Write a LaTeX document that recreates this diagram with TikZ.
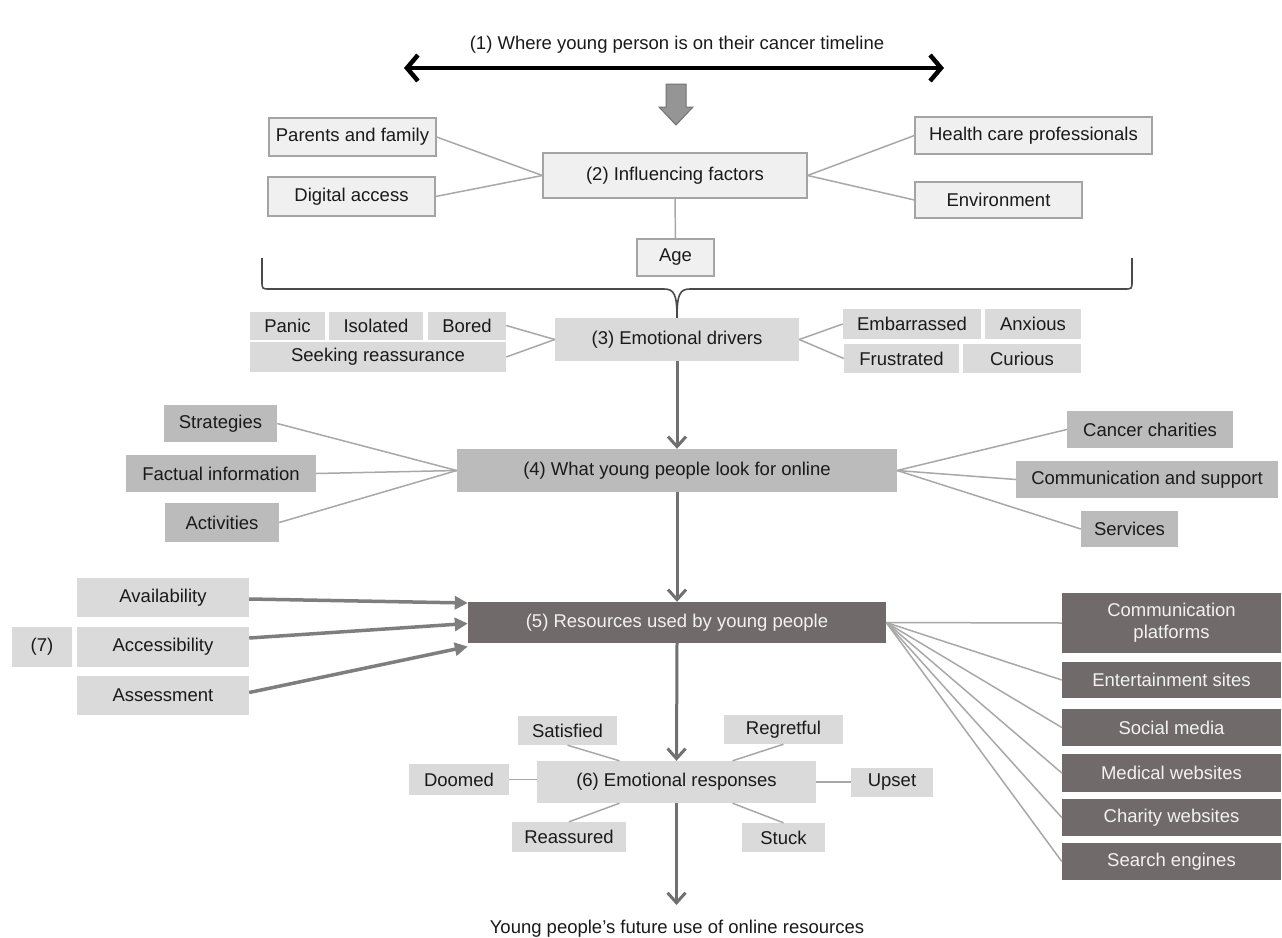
\documentclass[tikz,border=0pt]{standalone}
\usepackage{fontspec}
\setmainfont{Liberation Sans}
\usetikzlibrary{arrows.meta}
\definecolor{bxA}{HTML}{F0F0F0}
\definecolor{bdA}{HTML}{A4A4A4}
\definecolor{bxB}{HTML}{DADADA}
\definecolor{bxC}{HTML}{BBBBBB}
\definecolor{bxD}{HTML}{706A6B}
\definecolor{lnc}{HTML}{A8A8A8}
\definecolor{arc}{HTML}{707070}
\definecolor{brc}{HTML}{4A4A4A}
\definecolor{blk}{HTML}{959595}
\definecolor{blkd}{HTML}{727272}
\definecolor{txt}{HTML}{1A1A1A}
\begin{document}
\begin{tikzpicture}[x=1pt,y=-1pt,
  base/.style={inner sep=0pt, font=\fontsize{18.5}{22}\selectfont, align=center, text=txt},
  sz/.style 2 args={minimum width=#1pt, minimum height=#2pt},
  bA/.style={base, fill=bxA, draw=bdA, line width=1.2pt},
  bB/.style={base, fill=bxB},
  bC/.style={base, fill=bxC},
  bD/.style={base, fill=bxD, text=white!95!black},
  conn/.style={draw=lnc, line width=1.5pt},
  varr/.style={draw=arc, line width=3pt, -{Straight Barb[length=10pt,width=18pt]}},
  harr/.style={draw=arc!90!white, line width=3.5pt, -{Triangle[length=13pt,width=13pt]}},
  bracestyle/.style={draw=brc, line width=1.6pt}
]
\useasboundingbox[fill=white] (0,0) rectangle (1282,937);

% (1) timeline
\node[base] (t1) at (677,45) {(1) Where young person is on their cancer timeline};
\coordinate (la) at (404,68);
\coordinate (ra) at (944,68);
\draw[line width=4.5pt, {Straight Barb[length=11pt,width=26pt]}-{Straight Barb[length=11pt,width=26pt]}] (la) -- (ra);
\filldraw[fill=blk, draw=blkd, line width=1pt] (666,84) -- (686,84) -- (686,107) -- (693,107) -- (676,125) -- (659,107) -- (666,107) -- cycle;

% (2) influencing factors
\node[bA, sz={264}{45}] (e2) at (675,175.5) {(2) Influencing factors};
\node[bA, sz={167}{38}] (pf) at (352.5,137) {Parents and family};
\node[bA, sz={167}{39}] (da) at (351.5,196.5) {Digital access};
\node[bA, sz={237}{37}] (hcp) at (1033.5,135.5) {Health care professionals};
\node[bA, sz={167}{36}] (env) at (998.5,200) {Environment};
\node[bA, sz={77}{37}] (age) at (675.5,257.5) {Age};
\draw[conn] (pf.east) -- (e2.west);
\draw[conn] (da.east) -- (e2.west);
\draw[conn] (e2.east) -- (hcp.west);
\draw[conn] (e2.east) -- (env.west);
\draw[conn] (e2.south) -- (age.north);

% (3) emotional drivers
\node[bB, sz={244}{43}] (e3) at (677,339.5) {(3) Emotional drivers};
\node[bB, sz={75}{28}] (panic) at (287.5,325.5) {Panic};
\node[bB, sz={94}{28}] (iso) at (376,325.5) {Isolated};
\node[bB, sz={78}{28}] (bored) at (467,325.5) {Bored};
\node[bB, sz={256}{30}] (seek) at (378,357) {Seeking reassurance};
\node[bB, sz={138}{30}] (emb) at (912,324) {Embarrassed};
\node[bB, sz={96}{30}] (anx) at (1033,324) {Anxious};
\node[bB, sz={115}{29}] (fru) at (901.5,358.5) {Frustrated};
\node[bB, sz={118}{29}] (cur) at (1022,358.5) {Curious};
\draw[conn] (bored.east) -- (e3.west);
\draw[conn] (seek.east) -- (e3.west);
\draw[conn] (e3.east) -- (emb.west);
\draw[conn] (e3.east) -- (fru.west);

% brace
\draw[bracestyle] (262,258) -- (262,281) .. controls (262,289) .. (270,289) -- (664,289) .. controls (674,289) and (677,294) .. (e3.north);
\draw[bracestyle] (1132,258) -- (1132,281) .. controls (1132,289) .. (1124,289) -- (690,289) .. controls (680,289) and (677,294) .. (e3.north);

% (4) what young people look for
\node[bC, sz={440}{43}] (e4) at (677,470.5) {(4) What young people look for online};
\node[bC, sz={113}{37}] (strat) at (220.5,423.5) {Strategies};
\node[bC, sz={190}{37}] (fact) at (221,473.5) {Factual information};
\node[bC, sz={114}{39}] (act) at (222,522.5) {Activities};
\node[bC, sz={166}{37}] (cc) at (1150,429.5) {Cancer charities};
\node[bC, sz={262}{37}] (cs) at (1147,479.5) {Communication and support};
\node[bC, sz={97}{36}] (serv) at (1129.5,529) {Services};
\draw[conn] (strat.east) -- (e4.west);
\draw[conn] (fact.east) -- (e4.west);
\draw[conn] (act.east) -- (e4.west);
\draw[conn] (e4.east) -- (cc.west);
\draw[conn] (e4.east) -- (cs.west);
\draw[conn] (e4.east) -- (serv.west);

% (5) resources
\node[bD, sz={418}{41}] (e5) at (677,622.5) {(5) Resources used by young people};
\node[bD, sz={219}{60}] (cp) at (1171.5,623) {Communication\\platforms};
\node[bD, sz={219}{36}] (es) at (1171.5,680) {Entertainment sites};
\node[bD, sz={219}{37}] (sm) at (1171.5,727.5) {Social media};
\node[bD, sz={219}{38}] (mw) at (1171.5,773) {Medical websites};
\node[bD, sz={219}{37}] (cw) at (1171.5,817.5) {Charity websites};
\node[bD, sz={219}{37}] (se) at (1171.5,861.5) {Search engines};
\foreach \n in {cp,es,sm,mw,cw,se} \draw[conn] (e5.east) -- (\n.west);

% (7)
\node[bB, sz={172}{39}] (avail) at (163,597.5) {Availability};
\node[bB, sz={60}{40}] (seven) at (42,647) {(7)};
\node[bB, sz={172}{40}] (access) at (163,647) {Accessibility};
\node[bB, sz={172}{39}] (assess) at (163,695.5) {Assessment};
\draw[harr] ([yshift=-1.5pt]avail.east) -- ([yshift=19.5pt]e5.west);
\draw[harr] ([yshift=9pt]access.east) -- ([yshift=-1pt]e5.west);
\draw[harr] ([yshift=3pt]assess.east) -- ([yshift=-24pt]e5.west);

% (6) emotional responses
\node[bB, sz={279}{42}] (e6) at (676.5,782) {(6) Emotional responses};
\node[bB, sz={99}{29}] (sat) at (567.5,730.5) {Satisfied};
\node[bB, sz={119}{29}] (reg) at (783.5,729.5) {Regretful};
\node[bB, sz={100}{31}] (doom) at (459,779.5) {Doomed};
\node[bB, sz={82}{29}] (upset) at (892,782.5) {Upset};
\node[bB, sz={114}{30}] (reas) at (569,837) {Reassured};
\node[bB, sz={83}{29}] (stuck) at (783.5,837.5) {Stuck};
\draw[conn] (sat.south) -- ([xshift=-57pt]e6.north);
\draw[conn] (reg.south) -- ([xshift=56pt]e6.north);
\draw[conn] (reas.north) -- ([xshift=-57pt]e6.south);
\draw[conn] (stuck.north) -- ([xshift=56pt]e6.south);
\draw[conn] (doom.east) -- (doom.east -| e6.west);
\draw[conn] (e6.east) -- (e6.east -| upset.west);

% vertical flow
\draw[varr] (e3.south) -- (e4.north);
\draw[varr] (e4.south) -- (e5.north);
\draw[varr] (e5.south) -- (e6.north);
\coordinate (fe) at (676.5,905);
\draw[varr] (e6.south) -- (fe);
\node[base, anchor=base] (fut) at (677,933) {Young people’s future use of online resources};
\end{tikzpicture}
\end{document}
